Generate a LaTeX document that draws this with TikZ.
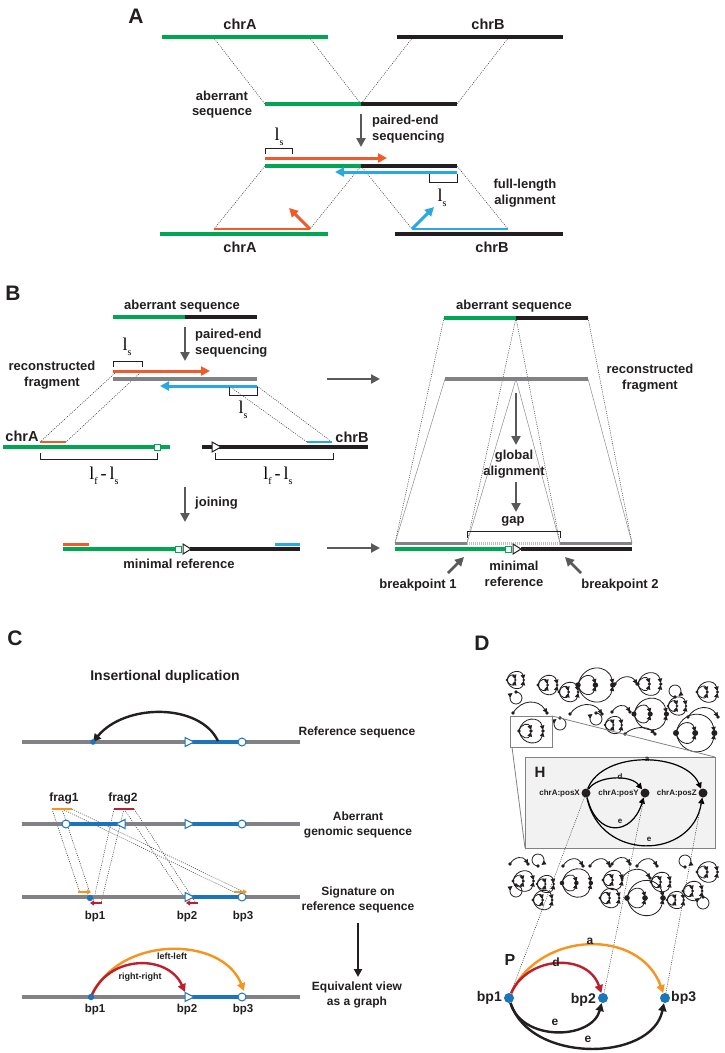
\documentclass[tikz,border=0pt]{standalone}
\usepackage{fontspec}
\setmainfont{Liberation Sans}
\newfontfamily\serifl{Liberation Serif}
\usetikzlibrary{arrows.meta}
\definecolor{txt}{HTML}{231F20}
\definecolor{cgreen}{HTML}{00A651}
\definecolor{ck}{HTML}{231F20}
\definecolor{cgray}{HTML}{808285}
\definecolor{darr}{HTML}{58595B}
\definecolor{corange}{HTML}{EF5B2B}
\definecolor{cblue}{HTML}{27AAE1}
\definecolor{cbl}{HTML}{1C75BC}
\definecolor{cor}{HTML}{F7941D}
\definecolor{cred}{HTML}{BE1E2D}
\definecolor{pblue}{HTML}{1B75BB}
\newcommand{\lsym}[1]{{\serifl\fontsize{18}{18}\selectfont l\raisebox{-5pt}{\fontsize{10}{10}\selectfont #1}}}
\newcommand{\lfls}{\lsym{f}{\serifl\fontsize{18}{18}\selectfont\,-\,}\lsym{s}}
\newcommand{\dmloop}[3]{%
 \begin{scope}[shift={(#1,#2)},rotate=#3]
 \draw[mot] (0,0) arc[start angle=-90,end angle=235,radius=6];
 \fill[ck] (0,0) circle (1.9);
 \end{scope}}
\newcommand{\dmarc}[5]{%
 \begin{scope}[shift={(#1,#2)},rotate=#5]
 \draw[mot] (0,0) .. controls (#3*0.25,-#4) and (#3*0.75,-#4) .. (#3,0);
 \fill[ck] (0,0) circle (1.9); \fill[ck] (#3,0) circle (1.9);
 \end{scope}}
\newcommand{\dmflower}[4]{%
 \begin{scope}[shift={(#1,#2)},rotate=#4,scale=#3]
 \draw[mot] (0,0) .. controls (2,-8) and (10,-8) .. (12,-1);
 \draw[mot] (0,0) .. controls (2,8) and (10,8) .. (12,1);
 \draw[mot] (0,0) .. controls (3,-15) and (21,-15) .. (24,-1);
 \draw[mot] (0,0) .. controls (3,15) and (21,15) .. (24,1);
 \fill[ck] (0,0) circle (1.9); \fill[ck] (12,0) circle (1.9); \fill[ck] (24,0) circle (1.9);
 \end{scope}}
\tikzset{
 lab/.style={font=\bfseries\fontsize{13}{15.5}\selectfont, text=txt, align=center, inner sep=0pt},
 labchr/.style={font=\bfseries\fontsize{14.5}{16}\selectfont, text=txt, inner sep=0pt},
 labc/.style={font=\bfseries\fontsize{12}{14.5}\selectfont, text=txt, align=center, inner sep=0pt},
 labs/.style={font=\bfseries\fontsize{9}{11}\selectfont, text=txt, inner sep=0pt},
 labh/.style={font=\bfseries\fontsize{8}{9}\selectfont, text=txt, inner sep=0pt},
 panel/.style={font=\bfseries\fontsize{21}{21}\selectfont, text=txt, inner sep=0pt},
 seqG/.style={line width=4pt, draw=cgreen},
 seqK/.style={line width=4pt, draw=ck},
 seqY/.style={line width=4pt, draw=cgray},
 dl/.style={line width=0.5pt, dash pattern=on 1pt off 1.2pt, draw=black!80},
 garr/.style={line width=2.6pt, draw=darr, -{Triangle[length=9pt,width=9pt]}},
 oarr/.style={line width=3pt, draw=corange, -{Triangle[length=9pt,width=9pt]}},
 barr/.style={line width=3pt, draw=cblue, -{Triangle[length=9pt,width=9pt]}},
 brk/.style={line width=1pt, draw=ck},
 mot/.style={line width=0.8pt, draw=ck, -{Triangle[length=4.5pt,width=4.5pt]}},
 tri/.style={line width=1pt, fill=white},
 blu/.style={line width=3.5pt, draw=cbl},
 garc/.style={line width=2.4pt, -{Triangle[length=8pt,width=8pt]}},
 sarr/.style={line width=1.8pt, -{Triangle[length=4pt,width=5pt]}},
}
\begin{document}
\begin{tikzpicture}[x=1pt,y=-1pt]
\useasboundingbox (0,0) rectangle (724,1053);
\fill[white] (0,0) rectangle (724,1053);

% ================= PANEL A =================
\node[panel] (pA) at (136,16) {A};
\node[labchr] (tchrA) at (240,24) {chrA};
\node[labchr] (tchrB) at (488,24) {chrB};
\coordinate (a1l) at (162,37); \coordinate (a1r) at (328,37);
\coordinate (b1l) at (397,37); \coordinate (b1r) at (563,37);
\coordinate (ab1) at (265,104); \coordinate (abm) at (361,104); \coordinate (ab2) at (457,104);
\draw[dl] (213,37) -- (ab1);
\draw[dl] (309,37) -- (abm);
\draw[dl] (413,37) -- (abm);
\draw[dl] (509,37) -- (ab2);
\draw[seqG] (a1l) -- (a1r);
\draw[seqK] (b1l) -- (b1r);
\draw[seqG] (ab1) -- (abm);
\draw[seqK] (abm) -- (ab2);
\node[lab] (tab) at (222,104.5) {aberrant\\sequence};
\coordinate (arA1) at (361,114); \coordinate (arA2) at (361,147);
\draw[garr] (arA1) -- (arA2);
\node[lab, anchor=west, align=left] (tpe) at (372,129) {paired-end\\sequencing};
% reads
\coordinate (s2l) at (265,166); \coordinate (s2m) at (361,166); \coordinate (s2r) at (457,166);
\coordinate (cl1) at (214,229); \coordinate (cl2) at (310,229);
\coordinate (cb1) at (412,229); \coordinate (cb2) at (508,229);
\draw[dl] (s2l) -- (cl1);
\draw[dl] (s2m) -- (cl2);
\draw[dl] (s2m) -- (cb1);
\draw[dl] (s2r) -- (cb2);
\draw[oarr] (265,158) -- (387,158);
\draw[seqG] (s2l) -- (s2m);
\draw[seqK] (s2m) -- (s2r);
\draw[barr] (457,172) -- (335,172);
\draw[brk] (265,154) -- (265,148) -- (292,148) -- (292,154);
\node (tls1) at (279,137) {\lsym{s}};
\draw[brk] (429,174) -- (429,182) -- (457,182) -- (457,174);
\node (tls2) at (442,198) {\lsym{s}};
\node[lab] (tfl) at (525,193) {full-length\\alignment};
% bottom chromosomes
\draw[seqG] (160,234) -- (328,234);
\draw[seqK] (395,234) -- (563,234);
\draw[line width=2.2pt, draw=corange] (cl1) -- (cl2);
\draw[line width=2.2pt, draw=cblue] (cb1) -- (cb2);
\draw[oarr] (cl2) -- (289,208);
\draw[barr] (cb1) -- (434,207);
\node[labchr] (tchrA2) at (240,247) {chrA};
\node[labchr] (tchrB2) at (492,247) {chrB};

% ================= PANEL B (left) =================
\node[panel] (pB) at (13,293) {B};
\node[lab] (tabB) at (182,306) {aberrant sequence};
\draw[seqG] (113,317) -- (185,317);
\draw[seqK] (185,317) -- (257,317);
\draw[garr] (185,327) -- (185,361);
\node[lab, anchor=west, align=left] (tpeB) at (195,343) {paired-end\\sequencing};
\draw[brk] (113,367) -- (113,361) -- (142,361) -- (142,367);
\node (tlsB1) at (127,347) {\lsym{s}};
\node[lab] (trf) at (52,375) {reconstructed\\fragment};
% dotted to chromosomes
\draw[dl] (115,373) -- (40,442);
\draw[dl] (142,371) -- (66,442);
\draw[dl] (229,386) -- (307,442);
\draw[dl] (257,386) -- (332,442);
\draw[oarr] (113,371) -- (210,371);
\draw[seqY] (113,379) -- (257,379);
\draw[barr] (257,386) -- (160,386);
\draw[brk] (229,387) -- (229,395) -- (257,395) -- (257,387);
\node (tlsB2) at (243,410) {\lsym{s}};
% chrA / chrB
\node[labchr] (tchrAB) at (22,436) {chrA};
\node[labchr] (tchrBB) at (352,437) {chrB};
\draw[seqG] (3,447) -- (170,447);
\draw[line width=2.2pt, draw=corange] (40,442) -- (66,442);
\draw[tri, draw=cgreen] (154,444) rectangle (160,450);
\draw[seqK] (202,447) -- (368,447);
\draw[line width=2.2pt, draw=cblue] (307,442) -- (332,442);
\draw[tri, draw=ck] (212,442) -- (221,447) -- (212,452) -- cycle;
\draw[brk] (40,453) -- (40,459) -- (157,459) -- (157,453);
\draw[brk] (215,453) -- (215,459) -- (333,459) -- (333,453);
\node (tlf1) at (104,476) {\lfls};
\node (tlf2) at (278,476) {\lfls};
\draw[garr] (185,487) -- (185,522);
\node[lab, anchor=west] (tjoin) at (195,503) {joining};
% minimal reference
\draw[seqG] (63,549) -- (178,549);
\draw[seqK] (190,549) -- (300,549);
\draw[line width=2.2pt, draw=corange] (63,544.5) -- (89,544.5);
\draw[line width=2.2pt, draw=cblue] (275,544.5) -- (300,544.5);
\draw[tri, draw=cgreen] (175,546) rectangle (181,552);
\draw[tri, draw=ck] (183,544) -- (191,549) -- (183,554) -- cycle;
\node[lab] (tmin) at (179,564) {minimal reference};
\draw[garr] (327,379) -- (380,379);
\draw[garr] (327,548) -- (380,548);

% ================= PANEL B (right) =================
\node[lab] (tabR) at (514,306) {aberrant sequence};
\node[lab] (trfR) at (650,378) {reconstructed\\fragment};
\coordinate (r1) at (444,318); \coordinate (r2) at (516,318); \coordinate (r3) at (588,318);
\coordinate (f1) at (445,379); \coordinate (f2) at (516,379); \coordinate (f3) at (588,379);
\coordinate (g1) at (395,543); \coordinate (g2) at (467,543); \coordinate (g3) at (560,543); \coordinate (g4) at (632,543);
\draw[dl] (r1) -- (g1);
\draw[dl] (r2) -- (g2);
\draw[dl] (r2) -- (g3);
\draw[dl] (r3) -- (g4);
\draw[line width=0.5pt, draw=black!45] (f1) -- (g1);
\draw[line width=0.5pt, draw=black!45] (f2) -- (g2);
\draw[line width=0.5pt, draw=black!45] (f2) -- (g3);
\draw[line width=0.5pt, draw=black!45] (f3) -- (g4);
\draw[seqG] (r1) -- (r2);
\draw[seqK] (r2) -- (r3);
\draw[seqY] (f1) -- (f3);
\draw[garr] (516,393) -- (516,445);
\node[lab] (tgl) at (514,464) {global\\alignment};
\draw[garr] (516,482) -- (516,512);
\node[lab] (tgap) at (513,521) {gap};
\draw[brk] (467,538) -- (467,531) -- (560,531) -- (560,538);
\draw[line width=3pt, draw=cgray] (g1) -- (g2);
\draw[line width=3pt, draw=black!25, dash pattern=on 1pt off 1pt] (g2) -- (g3);
\draw[line width=3pt, draw=cgray] (g3) -- (g4);
\draw[seqG] (395,549) -- (508,549);
\draw[seqK] (521,549) -- (632,549);
\draw[tri, draw=cgreen] (505,546) rectangle (511,552);
\draw[tri, draw=ck] (513,544) -- (521,549) -- (513,554) -- cycle;
\draw[garr] (448,573) -- (464,557);
\draw[garr] (581,573) -- (565,557);
\node[lab] (tbp1) at (418,585) {breakpoint 1};
\node[lab] (tbp2) at (620,585) {breakpoint 2};
\node[lab] (tminR) at (514,574) {minimal\\reference};

% ================= PANEL C =================
\node[panel] (pC) at (15,638) {C};
\node[font=\bfseries\fontsize{14}{16}\selectfont, text=txt, inner sep=0pt] (tid) at (165,677) {Insertional duplication};
% reference
\draw[seqY] (22,742) -- (300,742);
\draw[blu] (193,742) -- (242,742);
\coordinate (c1bp1) at (93,742);
\coordinate (c1src) at (218,741);
\draw[garc, draw=ck] (c1src) .. controls (200,703) and (125,703) .. (c1bp1);
\fill[cbl] (c1bp1) circle (2.8);
\draw[tri, draw=cbl] (185,737.5) -- (194,742) -- (185,746.5) -- cycle;
\draw[tri, draw=cbl] (242,742) circle (4);
\node[labc] (tref) at (357,732) {Reference sequence};
% aberrant
\coordinate (fr1a) at (52,809); \coordinate (fr1m) at (62,809); \coordinate (fr1b) at (72,809);
\coordinate (fr2a) at (114,809); \coordinate (fr2m) at (124,809); \coordinate (fr2b) at (134,809);
\draw[dl] (fr1a) -- (80,893);
\draw[dl] (fr1m) -- (90,893);
\draw[dl] (fr1m) -- (236,893);
\draw[dl] (fr1b) -- (246,893);
\draw[dl] (fr2a) -- (93,903);
\draw[dl] (fr2m) -- (101,903);
\draw[dl] (fr2m) -- (188,903);
\draw[dl] (fr2b) -- (196,903);
\draw[seqY] (22,824) -- (300,824);
\draw[blu] (66,824) -- (117,824);
\draw[blu] (193,824) -- (242,824);
\draw[tri, draw=cbl] (66,824) circle (4);
\draw[tri, draw=cbl] (125,819.5) -- (116,824) -- (125,828.5) -- cycle;
\draw[tri, draw=cbl] (185,819.5) -- (194,824) -- (185,828.5) -- cycle;
\draw[tri, draw=cbl] (242,824) circle (4);
\draw[line width=2pt, draw=cor] (fr1a) -- (fr1b);
\draw[line width=2pt, draw=cred] (fr2a) -- (fr2b);
\node[labc] (tf1) at (64,798) {frag1};
\node[labc] (tf2) at (123,798) {frag2};
\node[labc] (tagen) at (358,825) {Aberrant\\genomic sequence};
% signature
\draw[seqY] (22,897) -- (300,897);
\draw[blu] (193,897) -- (242,897);
\fill[cbl] (90,898) circle (3.2);
\draw[tri, draw=cbl] (185,892.5) -- (194,897) -- (185,901.5) -- cycle;
\draw[tri, draw=cbl] (242,897) circle (4);
\draw[sarr, draw=cor] (78,892) -- (91,892);
\draw[sarr, draw=cred] (102,903) -- (90,903);
\draw[sarr, draw=cor] (234,892) -- (247,892);
\draw[sarr, draw=cred] (198,903) -- (186,903);
\node[labc] (tsig) at (358,900) {Signature on\\reference sequence};
\node[font=\bfseries\fontsize{11.5}{13}\selectfont, text=txt, inner sep=0pt] (lb1) at (95,917) {bp1};
\node[font=\bfseries\fontsize{11.5}{13}\selectfont, text=txt, inner sep=0pt] (lb2) at (187,917) {bp2};
\node[font=\bfseries\fontsize{11.5}{13}\selectfont, text=txt, inner sep=0pt] (lb3) at (243,917) {bp3};
\draw[garc, draw=ck] (358,923) -- (358,977);
\node[labc] (teq) at (357,995) {Equivalent view\\as a graph};
% graph view
\draw[seqY] (22,997) -- (300,997);
\draw[blu] (193,997) -- (242,997);
\coordinate (gb1) at (91,997); \coordinate (gb2) at (185,992); \coordinate (gb3) at (244,991);
\draw[garc, draw=cor] (gb1) .. controls (118,935) and (222,935) .. (gb3);
\draw[garc, draw=cred] (gb1) .. controls (108,954) and (168,954) .. (gb2);
\fill[cbl] (gb1) circle (3.2);
\draw[tri, draw=cbl] (185,992.5) -- (194,997) -- (185,1001.5) -- cycle;
\draw[tri, draw=cbl] (242,997) circle (4);
\node[labs] (tll) at (172,956) {left-left};
\node[labs] (trr) at (140,977) {right-right};
\node[font=\bfseries\fontsize{11.5}{13}\selectfont, text=txt, inner sep=0pt] (lg1) at (95,1010) {bp1};
\node[font=\bfseries\fontsize{11.5}{13}\selectfont, text=txt, inner sep=0pt] (lg2) at (187,1010) {bp2};
\node[font=\bfseries\fontsize{11.5}{13}\selectfont, text=txt, inner sep=0pt] (lg3) at (243,1010) {bp3};

% ================= PANEL D =================
\node[panel] (pD) at (482,643) {D};
% top cloud
\dmflower{507}{680}{0.7}{0}
\dmloop{516}{692}{0}
\dmarc{513}{713}{34}{14}{0}
\dmflower{538}{685}{0.8}{0}
\dmflower{559}{692}{0.8}{0}
\dmflower{578}{685}{1.45}{0}
\dmarc{615}{684}{22}{9}{0}
\dmflower{638}{684}{0.95}{0}
\dmloop{675}{697}{180}
\dmflower{697}{692}{0.85}{0}
\dmloop{560}{718}{0}
\dmarc{570}{714}{32}{12}{0}
\dmloop{596}{713}{0}
\dmarc{612}{712}{18}{8}{0}
\dmflower{634}{714}{1.35}{0}
\dmflower{668}{706}{0.75}{0}
\dmarc{688}{717}{30}{12}{0}
\dmflower{605}{725}{0.7}{0}
\dmarc{625}{734}{30}{8}{0}
\dmflower{676}{733}{1.6}{0}
% small box
\draw[line width=1pt, draw=cgray] (510,716) rectangle (552,747);
\dmflower{519}{731}{1.0}{0}
% big H box
\draw[line width=0.8pt, draw=cgray] (552,716) -- (715,757);
\draw[line width=0.8pt, draw=cgray] (512,747) -- (525,848);
\draw[line width=1pt, draw=cgray, fill=black!5] (525,757) rectangle (715,848);
\node[font=\bfseries\fontsize{15}{15}\selectfont, text=txt, inner sep=0pt] (tH) at (540,772) {H};
\node[circle, fill=ck, inner sep=0pt, minimum size=9pt] (px) at (586,793) {};
\node[circle, fill=ck, inner sep=0pt, minimum size=9pt] (py) at (645,793) {};
\node[circle, fill=ck, inner sep=0pt, minimum size=9pt] (pz) at (703,793) {};
\node[labh, anchor=east] (tpx) at (580,793) {chrA:posX};
\node[labh, anchor=east] (tpy) at (639,793) {chrA:posY};
\node[labh, anchor=east] (tpz) at (697,793) {chrA:posZ};
\draw[line width=1.2pt, -{Triangle[length=6pt,width=6pt]}] (px) .. controls (603,750) and (685,752) .. (pz);
\draw[line width=1.2pt, -{Triangle[length=6pt,width=6pt]}] (px) .. controls (597,776) and (630,774) .. (py);
\draw[line width=1.2pt, -{Triangle[length=6pt,width=6pt]}] (px) .. controls (597,838) and (632,836) .. (py);
\draw[line width=1.2pt, -{Triangle[length=6pt,width=6pt]}] (px) .. controls (600,862) and (692,860) .. (pz);
\node[labh] (ha) at (647,759) {a};
\node[labh] (hd) at (620,777) {d};
\node[labh] (he1) at (620,821) {e};
\node[labh] (he2) at (649,839) {e};
% bottom cloud
\dmarc{510}{864}{18}{8}{0}
\dmloop{538}{866}{180}
\dmarc{563}{866}{20}{9}{0}
\dmarc{590}{866}{20}{9}{0}
\dmarc{612}{864}{18}{8}{0}
\dmarc{637}{866}{20}{9}{0}
\dmloop{685}{867}{180}
\dmflower{697}{872}{0.85}{0}
\dmflower{513}{881}{0.85}{0}
\dmflower{537}{884}{0.7}{0}
\dmflower{562}{883}{1.2}{0}
\dmflower{603}{880}{0.8}{0}
\dmarc{622}{878}{28}{11}{0}
\dmflower{651}{882}{0.8}{0}
\dmflower{683}{891}{0.8}{0}
\dmloop{516}{885}{0}
\dmflower{533}{900}{0.8}{0}
\dmflower{600}{898}{0.8}{0}
\dmflower{627}{898}{1.5}{0}
\dmflower{667}{900}{0.7}{0}
\dmloop{703}{897}{0}
% P graph
\node[font=\bfseries\fontsize{16}{16}\selectfont, text=txt, inner sep=0pt] (tP) at (510,960) {P};
\node[circle, fill=pblue, inner sep=0pt, minimum size=10pt] (q1) at (509,998) {};
\node[circle, fill=pblue, inner sep=0pt, minimum size=10pt] (q2) at (603,998) {};
\node[circle, fill=pblue, inner sep=0pt, minimum size=10pt] (q3) at (665,998) {};
\draw[dl] (px) -- (q1);
\draw[dl] (py) -- (q2);
\draw[dl] (pz) -- (q3);
\node[font=\bfseries\fontsize{14}{14}\selectfont, text=txt, inner sep=0pt, anchor=east] (tq1) at (502,998) {bp1};
\node[font=\bfseries\fontsize{14}{14}\selectfont, text=txt, inner sep=0pt, anchor=east] (tq2) at (596,1000) {bp2};
\node[font=\bfseries\fontsize{14}{14}\selectfont, text=txt, inner sep=0pt, anchor=west] (tq3) at (671,998) {bp3};
\draw[garc, draw=cor] (q1) .. controls (540,930) and (640,928) .. (q3);
\draw[garc, draw=cred] (q1) .. controls (528,955) and (588,953) .. (q2);
\draw[garc, draw=ck] (q1) .. controls (522,1042) and (592,1040) .. (q2);
\draw[garc, draw=ck] (q1) .. controls (530,1064) and (652,1062) .. (q3);
\node[font=\bfseries\fontsize{12}{12}\selectfont, text=txt, inner sep=0pt] (pa) at (590,941) {a};
\node[font=\bfseries\fontsize{12}{12}\selectfont, text=txt, inner sep=0pt] (pd) at (556,962) {d};
\node[font=\bfseries\fontsize{12}{12}\selectfont, text=txt, inner sep=0pt] (pe1) at (555,1022) {e};
\node[font=\bfseries\fontsize{12}{12}\selectfont, text=txt, inner sep=0pt] (pe2) at (588,1039) {e};
\end{tikzpicture}
\end{document}
